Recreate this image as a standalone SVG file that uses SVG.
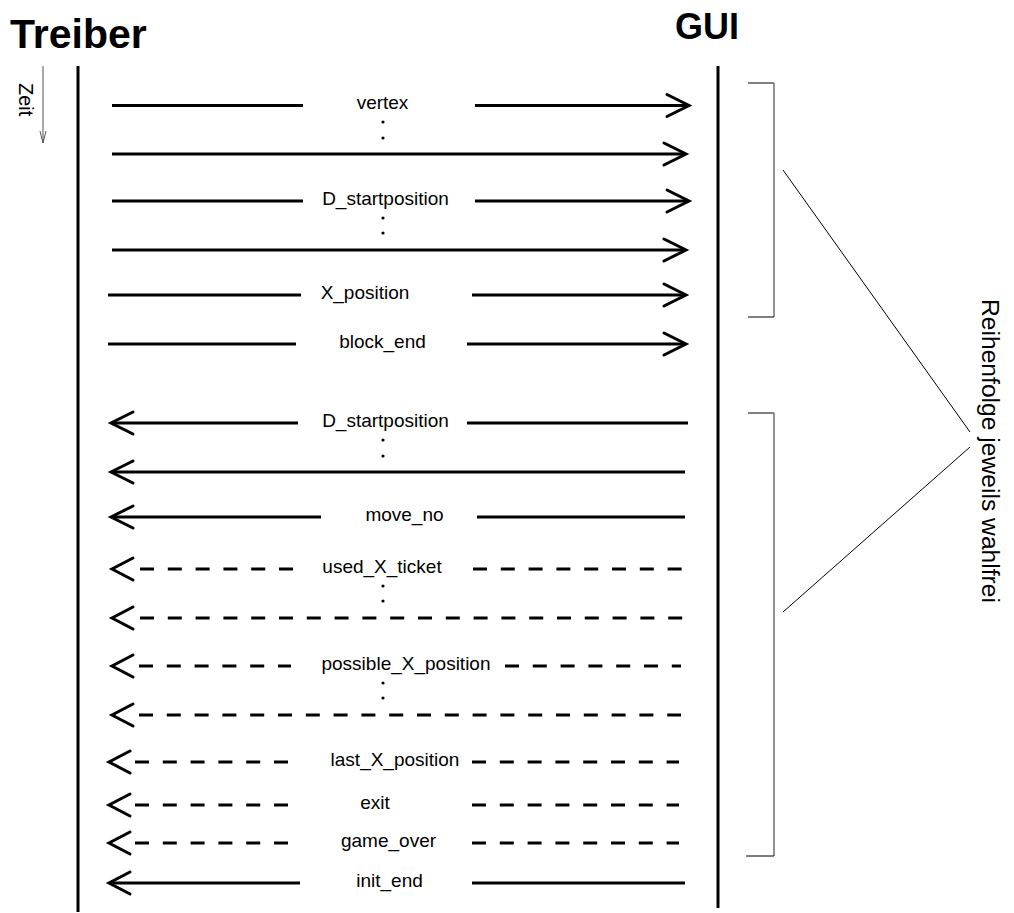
<svg xmlns="http://www.w3.org/2000/svg" width="1014" height="913" viewBox="0 0 1014 913">
  <style>
    .title { font-family: "Liberation Sans", Arial, sans-serif; font-weight: bold; fill: #000; }
    .lbl { font-family: "Liberation Sans", Arial, sans-serif; font-size: 19px; fill: #000; text-anchor: middle; }
    .life { stroke: #000; stroke-width: 3; fill: none; }
    .msg { stroke: #000; stroke-width: 3; fill: none; }
    .dash { stroke: #000; stroke-width: 3; fill: none; stroke-dasharray: 14 13.8; }
    .head { stroke: #000; stroke-width: 3; fill: none; stroke-linecap: round; stroke-linejoin: miter; }
    .dot { fill: #000; }
    .thin { stroke: #000; stroke-width: 1; fill: none; }
    .brk { stroke: #777; stroke-width: 1.6; fill: none; }
  </style>

  <rect width="1014" height="913" fill="#fff"/>

  <!-- lifeline heads -->
  <g id="treiber">
    <text class="title" x="10" y="48" font-size="41">Treiber</text>
    <line class="life" x1="78" y1="66" x2="78" y2="912"/>
  </g>
  <g id="gui">
    <text class="title" x="675" y="39" font-size="36">GUI</text>
    <line class="life" x1="718" y1="66" x2="718" y2="908"/>
  </g>

  <!-- time axis -->
  <g id="zeit">
    <text transform="translate(19,83) rotate(90)" font-family="Liberation Sans, Arial, sans-serif" font-size="20">Zeit</text>
    <line x1="43" y1="66" x2="43" y2="143" stroke="#555" stroke-width="1"/>
    <polyline points="40,131 43,143 46,131" stroke="#555" stroke-width="1" fill="none"/>
  </g>

  <!-- messages -->
  <g id="connectors">
    <!-- Treiber to GUI -->
    <g id="m-vertex">
      <line class="msg" x1="112" y1="105.5" x2="303" y2="105.5"/>
      <line class="msg" x1="475" y1="105.5" x2="688" y2="105.5"/>
      <polyline class="head" points="667,94.5 689,105.5 667,116.5"/>
      <text class="lbl" x="382.5" y="109">vertex</text>
    </g>
    <g id="m-vertex-n">
      <line class="msg" x1="112" y1="154" x2="685" y2="154"/>
      <polyline class="head" points="664,143 686,154 664,165"/>
    </g>
    <g id="m-dstart">
      <line class="msg" x1="112" y1="201" x2="303" y2="201"/>
      <line class="msg" x1="475" y1="201" x2="688" y2="201"/>
      <polyline class="head" points="667,190 689,201 667,212"/>
      <text class="lbl" x="385.5" y="204.5">D_startposition</text>
    </g>
    <g id="m-dstart-n">
      <line class="msg" x1="112" y1="250" x2="685" y2="250"/>
      <polyline class="head" points="664,239 686,250 664,261"/>
    </g>
    <g id="m-xpos">
      <line class="msg" x1="108" y1="295" x2="301" y2="295"/>
      <line class="msg" x1="472" y1="295" x2="685" y2="295"/>
      <polyline class="head" points="664,284 686,295 664,306"/>
      <text class="lbl" x="365" y="298.5">X_position</text>
    </g>
    <g id="m-blockend">
      <line class="msg" x1="108" y1="344" x2="296" y2="344"/>
      <line class="msg" x1="467" y1="344" x2="685" y2="344"/>
      <polyline class="head" points="664,333 686,344 664,355"/>
      <text class="lbl" x="382.5" y="347.5">block_end</text>
    </g>

    <!-- GUI to Treiber -->
    <g id="r-dstart">
      <polyline class="head" points="133,412 111,423 133,434"/>
      <line class="msg" x1="112" y1="423" x2="298" y2="423"/>
      <line class="msg" x1="467" y1="423" x2="688" y2="423"/>
      <text class="lbl" x="385.5" y="426.5">D_startposition</text>
    </g>
    <g id="r-dstart-n">
      <polyline class="head" points="133,461 111,472 133,483"/>
      <line class="msg" x1="112" y1="472" x2="685" y2="472"/>
    </g>
    <g id="r-moveno">
      <polyline class="head" points="133,506 111,517 133,528"/>
      <line class="msg" x1="112" y1="517" x2="321" y2="517"/>
      <line class="msg" x1="477" y1="517" x2="685" y2="517"/>
      <text class="lbl" x="404.5" y="520.5">move_no</text>
    </g>
    <g id="r-ticket">
      <polyline class="head" points="133,558 112,569 133,580"/>
      <line class="dash" x1="140" y1="569" x2="294" y2="569"/>
      <line class="dash" x1="473" y1="569" x2="683" y2="569"/>
      <text class="lbl" x="382" y="572.5">used_X_ticket</text>
    </g>
    <g id="r-ticket-n">
      <polyline class="head" points="133,607 112,618 133,629"/>
      <line class="dash" x1="140" y1="618" x2="683" y2="618"/>
    </g>
    <g id="r-possible">
      <polyline class="head" points="133,655 112,666 133,677"/>
      <line class="dash" x1="139" y1="666" x2="291" y2="666"/>
      <line class="dash" x1="505" y1="666" x2="681" y2="666"/>
      <text class="lbl" x="406" y="669.5">possible_X_position</text>
    </g>
    <g id="r-possible-n">
      <polyline class="head" points="133,704 112,715 133,726"/>
      <line class="dash" x1="139" y1="715" x2="681" y2="715"/>
    </g>
    <g id="r-last">
      <polyline class="head" points="130,751 109,762 130,773"/>
      <line class="dash" x1="135" y1="762" x2="289" y2="762"/>
      <line class="dash" x1="472" y1="762" x2="679" y2="762"/>
      <text class="lbl" x="395" y="765.5">last_X_position</text>
    </g>
    <g id="r-exit">
      <polyline class="head" points="130,794 109,805 130,816"/>
      <line class="dash" x1="135" y1="805" x2="289" y2="805"/>
      <line class="dash" x1="472" y1="805" x2="679" y2="805"/>
      <text class="lbl" x="375" y="808.5">exit</text>
    </g>
    <g id="r-gameover">
      <polyline class="head" points="130,832 109,843 130,854"/>
      <line class="dash" x1="135" y1="843" x2="289" y2="843"/>
      <line class="dash" x1="472" y1="843" x2="679" y2="843"/>
      <text class="lbl" x="388.5" y="846.5">game_over</text>
    </g>
    <g id="r-initend">
      <polyline class="head" points="130,872 109,883 130,894"/>
      <line class="msg" x1="110" y1="883" x2="300" y2="883"/>
      <line class="msg" x1="472" y1="883" x2="685" y2="883"/>
      <text class="lbl" x="389.5" y="886.5">init_end</text>
    </g>
  </g>

  <!-- ellipsis dots -->
  <g id="ellipses">
    <circle class="dot" cx="383" cy="122" r="1.6"/>
    <circle class="dot" cx="383" cy="138" r="1.6"/>
    <circle class="dot" cx="383" cy="218" r="1.6"/>
    <circle class="dot" cx="383" cy="233" r="1.6"/>
    <circle class="dot" cx="383" cy="440" r="1.6"/>
    <circle class="dot" cx="383" cy="456" r="1.6"/>
    <circle class="dot" cx="383" cy="586" r="1.6"/>
    <circle class="dot" cx="383" cy="601" r="1.6"/>
    <circle class="dot" cx="383" cy="683" r="1.6"/>
    <circle class="dot" cx="383" cy="698" r="1.6"/>
  </g>

  <!-- grouping brackets and note -->
  <g id="bracket-upper">
    <line class="thin" x1="748" y1="83" x2="774" y2="83"/>
    <line class="brk" x1="774" y1="83" x2="774" y2="317"/>
    <line class="thin" x1="748" y1="317" x2="774" y2="317"/>
  </g>
  <g id="bracket-lower">
    <line class="thin" x1="748" y1="413" x2="774" y2="413"/>
    <line class="brk" x1="774" y1="413" x2="774" y2="856"/>
    <line class="thin" x1="746" y1="856" x2="774" y2="856"/>
  </g>
  <g id="note">
    <line class="thin" x1="783" y1="170" x2="970" y2="432"/>
    <line class="thin" x1="970" y1="447" x2="783" y2="612"/>
    <text transform="translate(982,451) rotate(90)" font-family="Liberation Sans, Arial, sans-serif" font-size="23" text-anchor="middle" textLength="304" lengthAdjust="spacingAndGlyphs">Reihenfolge jeweils wahlfrei</text>
  </g>
</svg>
